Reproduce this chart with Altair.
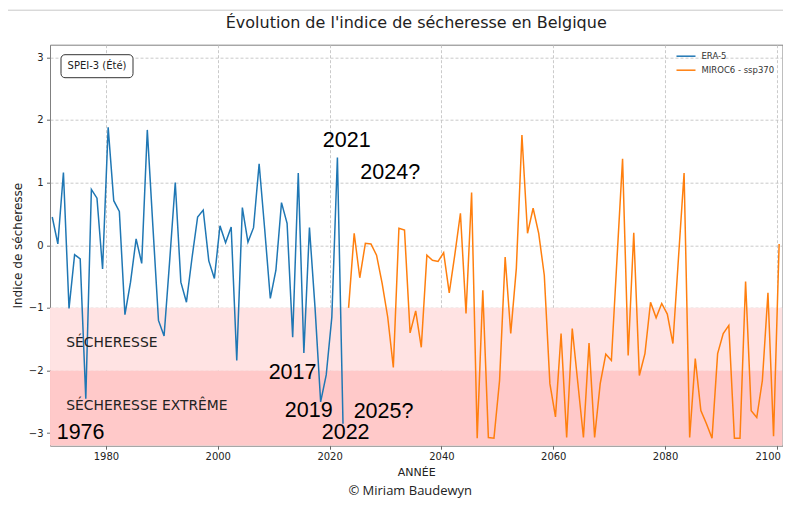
import altair as alt
import pandas as pd

# ---------------- data ----------------
ERA5_YEARS = list(range(1970, 2023))
ERA5_SPEI = [0.45, 0.02, 1.16, -1.01, -0.15, -0.22, -2.45, 0.89, 0.75, -0.38,
             1.88, 0.71, 0.54, -1.11, -0.59, 0.10, -0.29, 1.84, 0.30, -1.20,
             -1.45, -0.25, 1.00, -0.59, -0.91, -0.20, 0.45, 0.56, -0.25, -0.53,
             0.31, 0.04, 0.29, -1.84, 0.60, 0.05, 0.28, 1.30, 0.25, -0.85,
             -0.40, 0.68, 0.35, -1.47, 1.15, -1.72, 0.28, -1.00, -2.50, -2.07,
             -1.15, 1.40, -2.85]

MIROC_YEARS = list(range(2023, 2101))
MIROC_SPEI = [-1.00, 0.19, -0.52, 0.03, 0.02, -0.16, -0.61, -1.15, -1.95, 0.27,
              0.24, -1.40, -1.05, -1.63, -0.16, -0.24, -0.26, -0.12, -0.76, -0.15,
              0.51, -1.09, 0.84, -3.08, -0.72, -3.07, -3.08, -2.16, -0.19, -1.41,
              -0.37, 1.76, 0.19, 0.59, 0.19, -0.48, -2.21, -2.74, -1.41, -3.07,
              -1.33, -2.20, -3.07, -1.56, -3.07, -2.21, -1.74, -1.84, -0.22, 1.38,
              -1.76, 0.20, -2.08, -1.73, -0.91, -1.16, -0.93, -1.10, -1.57, -0.20,
              1.15, -3.07, -1.81, -2.64, -2.85, -3.08, -1.73, -1.41, -1.28, -3.08,
              -3.08, -0.58, -2.64, -2.75, -2.16, -0.76, -3.05, 0.02]

SERIES = ["ERA-5", "MIROC6 - ssp370"]
COLORS = ["#1f77b4", "#ff7f0e"]

BAND_TOP = [-1.0, -2.0]
BAND_BOTTOM = [-2.0, -3.2]
BAND_COLORS = ["#ffe3e3", "#ffc9c9"]
BAND_LABELS = ["SÉCHERESSE", "SÉCHERESSE EXTRÊME"]
BAND_LABEL_X = [1972.9, 1972.9]
BAND_LABEL_Y = [-1.56, -2.56]

NOTE_TEXT = ["1976", "2017", "2019", "2022", "2021", "2024?", "2025?"]
NOTE_X = [1971.2, 2009.1, 2012.0, 2018.6, 2018.8, 2025.5, 2024.3]
NOTE_Y = [-3.0, -2.04, -2.65, -3.0, 1.67, 1.16, -2.66]

X_TICKS = [1980, 2000, 2020, 2040, 2060, 2080, 2100]
Y_TICKS = [-3, -2, -1, 0, 1, 2, 3]

TITLE = "Évolution de l'indice de sécheresse en Belgique"
BOX_TEXT = "SPEI-3 (Été)"
CREDIT = "© Miriam Baudewyn"

W, H = 732.5, 401
FONT = "DejaVu Sans"

# ---------------- tables ----------------
lines_df = pd.concat([
    pd.DataFrame({"annee": ERA5_YEARS, "spei": ERA5_SPEI, "serie": SERIES[0]}),
    pd.DataFrame({"annee": MIROC_YEARS, "spei": MIROC_SPEI, "serie": SERIES[1]}),
])
bands_df = pd.DataFrame({"haut": BAND_TOP, "bas": BAND_BOTTOM, "couleur": BAND_COLORS,
                         "label": BAND_LABELS, "lx": BAND_LABEL_X, "ly": BAND_LABEL_Y})
notes_df = pd.DataFrame({"t": NOTE_TEXT, "x": NOTE_X, "y": NOTE_Y})

xscale = alt.Scale(domain=[1970, 2101], nice=False, zero=False)
yscale = alt.Scale(domain=[-3.2, 3.2], nice=False, zero=False)

last_tick = "datum.value >= %d" % X_TICKS[-1]
x_axis = alt.Axis(values=X_TICKS, format="d", title="ANNÉE", titleFontSize=11,
                  titleFontWeight="normal", titleY=27, titleBaseline="middle",
                  labelAlign={"condition": {"test": last_tick, "value": "right"}, "value": "center"},
                  labelOffset={"condition": {"test": last_tick, "value": 3.5}, "value": 0})
y_axis = alt.Axis(values=Y_TICKS, format="d", title="Indice de sécheresse",
                  titleFontSize=12, titleFontWeight="normal",
                  titleX=-33, titleY=H / 2, titleAlign="center", titleBaseline="middle")

bands = alt.Chart(bands_df).mark_rect(clip=True).encode(
    x=alt.value(0), x2=alt.value(W),
    y=alt.Y("haut:Q", scale=yscale, axis=y_axis),
    y2="bas:Q",
    color=alt.Color("couleur:N", scale=None),
)

line = alt.Chart(lines_df).transform_calculate(
    xpos="datum.annee + 0.4"
).mark_line(strokeWidth=1.5, clip=True).encode(
    x=alt.X("xpos:Q", scale=xscale, axis=x_axis),
    y=alt.Y("spei:Q", scale=yscale),
    color=alt.Color("serie:N", scale=alt.Scale(domain=SERIES, range=COLORS), legend=None),
    detail="serie:N",
)

band_labels = alt.Chart(bands_df).mark_text(
    align="left", baseline="middle", font=FONT, fontSize=13.9, color="#222"
).encode(x=alt.X("lx:Q", scale=xscale), y=alt.Y("ly:Q", scale=yscale), text="label:N")

notes = alt.Chart(notes_df).mark_text(
    align="left", baseline="middle", font="Liberation Sans", fontSize=21.5, color="#000"
).encode(x=alt.X("x:Q", scale=xscale), y=alt.Y("y:Q", scale=yscale), text="t:N")

# annotation box top-left
box_df = pd.DataFrame({"t": [BOX_TEXT]})
box = alt.Chart(box_df).mark_rect(
    fill="white", stroke="#333", strokeWidth=1, cornerRadius=4
).encode(x=alt.value(11), x2=alt.value(83), y=alt.value(10), y2=alt.value(33))
box_text = alt.Chart(box_df).mark_text(
    align="center", baseline="middle", font=FONT, fontSize=10, color="#222"
).encode(x=alt.value(47), y=alt.value(21.5), text="t:N")

# legend (top-right)
leg_df = pd.DataFrame({"serie": SERIES, "couleur": COLORS})
legend_layers = []
for i, (s, c) in enumerate(zip(SERIES, COLORS)):
    sub = leg_df.iloc[[i]]
    yy = 11.5 + 14 * i
    legend_layers.append(alt.Chart(sub).mark_rule(color=c, strokeWidth=1.5).encode(
        x=alt.value(626.5), x2=alt.value(645.5), y=alt.value(yy)))
    legend_layers.append(alt.Chart(sub).mark_text(
        align="left", baseline="middle", font=FONT, fontSize=8.5, color="#333"
    ).encode(x=alt.value(651.5), y=alt.value(yy), text="serie:N"))

title = alt.Chart(pd.DataFrame({"t": [TITLE]})).mark_text(
    align="center", baseline="middle", font=FONT, fontSize=16, color="#222"
).encode(x=alt.value(W / 2), y=alt.value(-21.5), text="t:N")

credit = alt.Chart(pd.DataFrame({"t": [CREDIT]})).mark_text(
    align="center", baseline="middle", font="Open Sans", fontSize=13, color="#222"
).encode(x=alt.value(W / 2 - 6), y=alt.value(446), text="t:N")

top_rule = alt.Chart(pd.DataFrame({"t": [0]})).mark_rule(color="#c8c8c8", strokeWidth=1).encode(
    x=alt.value(-50), x2=alt.value(745), y=alt.value(-34.5))

chart = alt.layer(
    bands, line, band_labels, notes, box, box_text, *legend_layers, title, credit, top_rule
).properties(
    width=W, height=H,
    autosize=alt.AutoSizeParams(type="none"),
    padding={"left": 42, "top": 36.7, "right": 0.5, "bottom": 52},
).configure_view(
    stroke="#808080", strokeWidth=1
).configure_axis(
    grid=True, gridColor="#bdbdbd", gridDash=[3, 2], gridWidth=0.8,
    domain=False, tickColor="#666", tickSize=3.5, labelPadding=2.5,
    labelFont=FONT, labelFontSize=10, labelColor="#222",
    titleFont=FONT, titleColor="#222",
).configure_axisY(labelPadding=3.5)

chart.save("out.html", embed_options={"renderer": "svg", "actions": False})
